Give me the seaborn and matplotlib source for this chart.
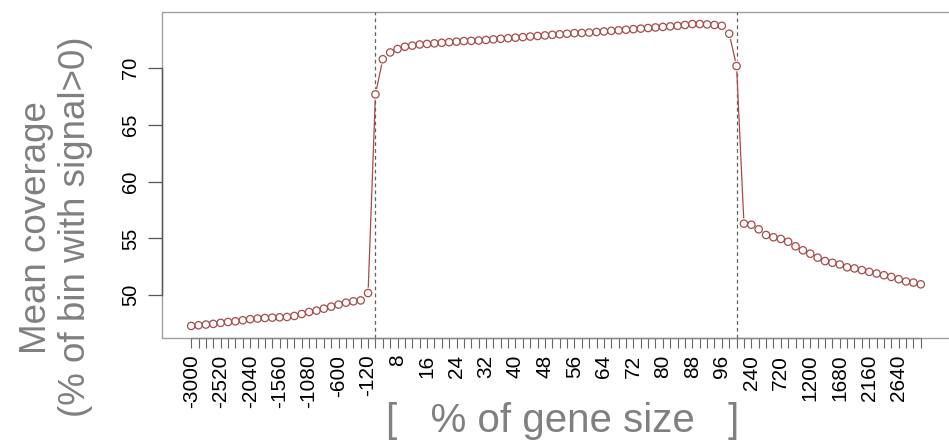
import numpy as np
import pandas as pd
import matplotlib
matplotlib.use("Agg")
import matplotlib.pyplot as plt
import seaborn as sns

# ---- bins (x categories) ----
upstream_bins = list(range(-3000, 0, 120))      # 25 bins upstream (bp)
gene_bins = list(range(2, 101, 2))              # 50 bins (% of gene size)
downstream_bins = list(range(120, 3001, 120))   # 25 bins downstream (bp)

# ---- mean coverage values ----
upstream_cov = [47.28, 47.34, 47.40, 47.46, 47.55, 47.63, 47.69, 47.78, 47.87, 47.93,
                47.98, 48.01, 48.04, 48.07, 48.16, 48.33, 48.51, 48.63, 48.80, 48.98,
                49.16, 49.33, 49.45, 49.53, 50.18]
gene_cov = [67.70, 70.80, 71.40, 71.70, 71.90, 72.00, 72.10, 72.15, 72.20, 72.25,
            72.30, 72.35, 72.40, 72.42, 72.45, 72.50, 72.55, 72.60, 72.65, 72.70,
            72.75, 72.80, 72.85, 72.90, 72.95, 73.00, 73.05, 73.10, 73.12, 73.15,
            73.20, 73.25, 73.30, 73.35, 73.40, 73.45, 73.50, 73.55, 73.60, 73.65,
            73.70, 73.75, 73.82, 73.90, 73.90, 73.87, 73.82, 73.75, 73.05, 70.20]
downstream_cov = [56.30, 56.20, 55.80, 55.30, 55.10, 54.95, 54.70, 54.30, 53.95, 53.65,
                  53.30, 53.00, 52.85, 52.70, 52.45, 52.35, 52.20, 52.05, 51.90, 51.75,
                  51.60, 51.40, 51.20, 51.10, 50.95]

y_ticks = [50, 55, 60, 65, 70]

bin_labels = [str(v) for v in upstream_bins + gene_bins + downstream_bins]
coverage = upstream_cov + gene_cov + downstream_cov
df = pd.DataFrame({"pos": np.arange(len(coverage)), "label": bin_labels, "cov": coverage})

sns.set_theme(style="white")
plt.rcParams['font.family'] = ['Liberation Sans', 'DejaVu Sans']

W, H = 949, 443
fig = plt.figure(figsize=(W / 100, H / 100), dpi=100)
ax = fig.add_axes([162 / W, 1 - 338 / H, 788 / W, 326 / H])

col = "#A84A4A"
# connecting line (R type="b": broken around the points)
sns.lineplot(data=df, x="pos", y="cov", ax=ax, color=col, lw=0.9, zorder=2)
sns.scatterplot(data=df, x="pos", y="cov", ax=ax, s=60, color="white",
                edgecolor="none", linewidth=0, zorder=3)
sns.scatterplot(data=df, x="pos", y="cov", ax=ax, s=28, facecolor="none",
                edgecolor=col, linewidth=0.9, zorder=4)

# gene body boundaries
start_idx = len(upstream_bins)
end_idx = len(upstream_bins) + len(gene_bins) - 1
for xv in (start_idx, end_idx):
    ax.axvline(xv, color="#606060", lw=0.9, ls=(0, (3, 2.5)), zorder=1)

n = len(df)
span = n - 1
ax.set_xlim(-0.04 * span, span * 1.04)
ymin, ymax = min(coverage), max(coverage)
yr = ymax - ymin
ax.set_ylim(ymin - 0.04 * yr, ymax + 0.04 * yr)

ax.set_xticks(df["pos"])
ax.set_xticklabels([lab if i % 4 == 0 else "" for i, lab in enumerate(df["label"])],
                   rotation=90, fontsize=15, color="black")
ax.set_yticks(y_ticks)
ax.set_yticklabels([str(v) for v in y_ticks], rotation=90, va="center",
                   fontsize=14.5, color="black")

ax.tick_params(axis="x", bottom=True, length=7, width=0.8, color="#666666", pad=5)
ax.tick_params(axis="y", left=True, length=10, width=0.9, color="#555555", pad=6)

# box + axis lines
for s in ["top", "right"]:
    ax.spines[s].set_visible(False)
ax.patch.set_edgecolor("#a0a0a0")
ax.patch.set_linewidth(1.0)
ax.spines["left"].set_bounds(y_ticks[0], y_ticks[-1])
ax.spines["left"].set_color("#555555")
ax.spines["left"].set_linewidth(1.0)
ax.spines["bottom"].set_bounds(0, span)
ax.spines["bottom"].set_color("#888888")
ax.spines["bottom"].set_linewidth(1.0)

ax.set_ylabel("Mean coverage\n(% of bin with signal>0)", fontsize=26.5, color="#808080",
              linespacing=1.15)
ax.yaxis.set_label_coords(-0.088, 0.34)
ax.set_xlabel("[   % of gene size   ]", fontsize=29, color="#808080")
ax.xaxis.set_label_coords(0.509, -0.195)

fig.savefig("out.png", dpi=100)
